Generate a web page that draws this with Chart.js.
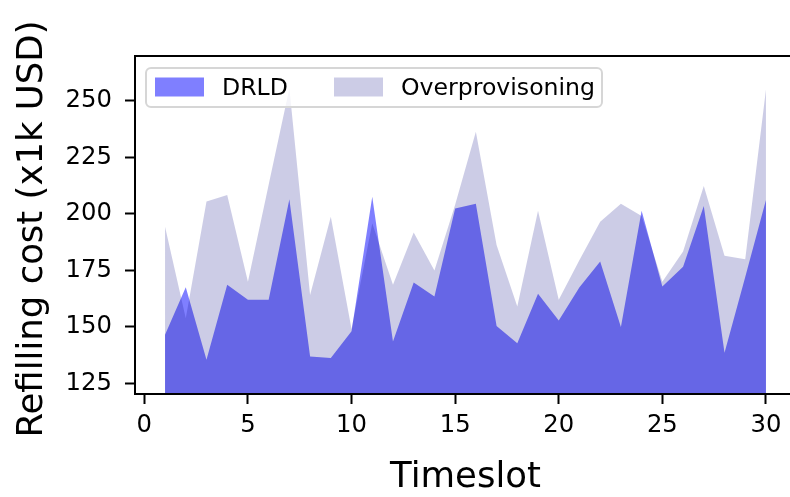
<!DOCTYPE html>
<html>
<head>
<meta charset="utf-8">
<script src="https://cdn.jsdelivr.net/npm/chart.js@4/dist/chart.umd.min.js"></script>
<style>
    html, body { margin: 0; padding: 0; background: #fff; overflow: hidden; }
    #wrap { position: absolute; left: 0; top: 0; width: 800px; height: 497px; }
</style>
</head>
<body>
<div id="wrap"><canvas id="chart" width="800" height="497"></canvas></div>
<script>
const TIMESLOTS = [1, 2, 3, 4, 5, 6, 7, 8, 9, 10, 11, 12, 13, 14, 15,
                   16, 17, 18, 19, 20, 21, 22, 23, 24, 25, 26, 27, 28, 29, 30];
const DRLD = [146.5, 167.5, 135.4, 168.6, 162, 162, 206.4, 136.9, 136.2, 148,
              207.6, 143.5, 169.6, 163.4, 202.4, 204.4, 150.4, 142.8, 164.6, 152.8,
              167.5, 178.9, 149.9, 201.4, 167.8, 176.6, 203.5, 138.6, 172, 206.1];
const OVERPROVISIONING = [194.3, 153.8, 205.4, 208.3, 170, 212.8, 255.5, 164.1, 198.7, 149,
                          195.8, 168.6, 191.7, 174.9, 204, 236.3, 186.2, 159, 201.4, 162,
                          179.6, 196.5, 204.4, 199, 170, 183.3, 212.3, 181.4, 179.9, 255];
const X_TICKS = [0, 5, 10, 15, 20, 25, 30];
const Y_TICKS = [125, 150, 175, 200, 225, 250];
const SERIES_NAMES = ['DRLD', 'Overprovisoning'];
const Y_TITLE = 'Refilling cost (x1k USD)';

const FONT = "'DejaVu Sans', sans-serif";
const DRLD_COLOR = 'rgba(0, 0, 255, 0.5)';
const OVER_COLOR = 'rgba(0, 0, 128, 0.2)';

const toPoints = (ys) => TIMESLOTS.map((t, i) => ({ x: t, y: ys[i] }));

// full box around the plot, drawn over the fills like matplotlib spines
const framePlugin = {
    id: 'frame',
    afterDatasetsDraw(chart) {
        const { ctx, chartArea: a } = chart;
        ctx.save();
        ctx.strokeStyle = '#000';
        ctx.lineWidth = 2;
        ctx.strokeRect(a.left, a.top, a.right - a.left, a.bottom - a.top);
        ctx.restore();
    }
};

// rotated y axis title, centred a bit lower than the scale middle
const yTitlePlugin = {
    id: 'yTitle',
    afterDraw(chart) {
        const ctx = chart.ctx;
        ctx.save();
        ctx.translate(33, 229);
        ctx.rotate(-Math.PI / 2);
        ctx.font = '35.5px ' + FONT;
        ctx.fillStyle = '#000';
        ctx.textAlign = 'center';
        ctx.textBaseline = 'middle';
        ctx.fillText(Y_TITLE, 0, 0);
        ctx.restore();
    }
};

// legend box in the upper left corner of the axes
const legendPlugin = {
    id: 'boxLegend',
    afterDraw(chart) {
        const ctx = chart.ctx;
        ctx.save();
        ctx.beginPath();
        ctx.roundRect(146, 68, 456, 39, 5);
        ctx.fillStyle = 'rgba(255, 255, 255, 0.8)';
        ctx.fill();
        ctx.strokeStyle = '#d6d6d6';
        ctx.lineWidth = 2;
        ctx.stroke();

        const colors = [DRLD_COLOR, OVER_COLOR];
        const patchX = [155, 334];
        ctx.font = '23.6px ' + FONT;
        ctx.textBaseline = 'alphabetic';
        ctx.textAlign = 'left';
        SERIES_NAMES.forEach((name, i) => {
            ctx.fillStyle = colors[i];
            ctx.fillRect(patchX[i], 77.5, 49, 19);
            ctx.fillStyle = '#000';
            ctx.fillText(name, patchX[i] + 67, 95);
        });
        ctx.restore();
    }
};

new Chart(document.getElementById('chart'), {
    type: 'line',
    data: {
        datasets: [
            {
                label: SERIES_NAMES[0],
                data: toPoints(DRLD),
                backgroundColor: DRLD_COLOR,
                borderColor: 'rgba(0,0,0,0)',
                borderWidth: 0,
                pointRadius: 0,
                tension: 0,
                fill: 'start',
                order: 1
            },
            {
                label: SERIES_NAMES[1],
                data: toPoints(OVERPROVISIONING),
                backgroundColor: OVER_COLOR,
                borderColor: 'rgba(0,0,0,0)',
                borderWidth: 0,
                pointRadius: 0,
                tension: 0,
                fill: 'start',
                order: 0
            }
        ]
    },
    options: {
        responsive: false,
        devicePixelRatio: 1,
        animation: false,
        layout: { padding: { left: 0, top: 56, right: 4, bottom: 0 } },
        plugins: {
            legend: { display: false },
            tooltip: { enabled: false }
        },
        scales: {
            x: {
                type: 'linear',
                min: -0.45,
                max: 31.45,
                afterBuildTicks: (s) => { s.ticks = X_TICKS.map(v => ({ value: v })); },
                afterFit: (s) => { s.height = 103; },
                grid: {
                    drawOnChartArea: false,
                    drawTicks: true,
                    tickLength: 10,
                    tickWidth: 2,
                    tickColor: '#000'
                },
                border: { display: false },
                ticks: {
                    color: '#000',
                    font: { family: FONT, size: 24.3 },
                    padding: 7,
                    maxRotation: 0,
                    callback: (v) => String(v)
                },
                title: {
                    display: true,
                    text: 'Timeslot',
                    color: '#000',
                    font: { family: FONT, size: 35.5, lineHeight: 1.1 },
                    padding: 0
                }
            },
            y: {
                type: 'linear',
                min: 120.3,
                max: 269.8,
                afterBuildTicks: (s) => { s.ticks = Y_TICKS.map(v => ({ value: v })); },
                afterFit: (s) => { s.width = 135; },
                grid: {
                    drawOnChartArea: false,
                    drawTicks: true,
                    tickLength: 10,
                    tickWidth: 2,
                    tickColor: '#000'
                },
                border: { display: false },
                ticks: {
                    color: '#000',
                    font: { family: FONT, size: 24.3 },
                    padding: 13,
                    callback: (v) => String(v)
                },
                title: { display: false }
            }
        }
    },
    plugins: [framePlugin, yTitlePlugin, legendPlugin]
});
</script>
</body>
</html>
